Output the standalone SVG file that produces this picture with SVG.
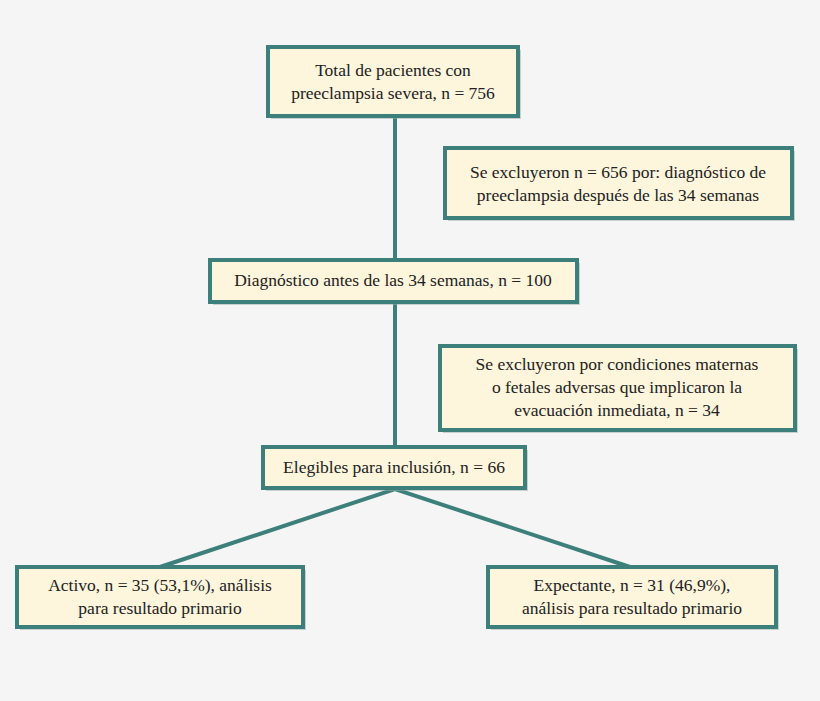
<svg xmlns="http://www.w3.org/2000/svg" width="820" height="701" viewBox="0 0 820 701">
<style>
.b{fill:#fdf5dc;stroke:#3d7f7a;stroke-width:4}
.s{fill:#9aa;opacity:0.5}
text{font-family:"Liberation Serif","Times New Roman","DejaVu Serif",serif;font-size:17.5px;fill:#222;text-anchor:middle}
.c{stroke:#3d7f7a;stroke-width:4;fill:none}
</style>
<rect width="820" height="701" fill="#f5f5f5"/>
<g id="connectors">
<line class="c" x1="395" y1="116" x2="395" y2="260"/>
<line class="c" x1="395" y1="302" x2="395" y2="447"/>
<polyline class="c" points="160,567 395,489 630,567"/>
</g>
<g id="n1"><rect class="s" x="271" y="50" width="250" height="69"/><rect class="b" x="268" y="47" width="250" height="69"/><text x="393" y="76">Total de pacientes con</text><text x="393" y="99">preeclampsia severa, n = 756</text></g>
<g id="n2"><rect class="s" x="448" y="151" width="347" height="70"/><rect class="b" x="445" y="148" width="347" height="70"/><text x="618" y="178">Se excluyeron n = 656 por: diagnóstico de</text><text x="618" y="201">preeclampsia después de las 34 semanas</text></g>
<g id="n3"><rect class="s" x="213" y="263" width="367" height="42"/><rect class="b" x="210" y="260" width="367" height="42"/><text x="393" y="286">Diagnóstico antes de las 34 semanas, n = 100</text></g>
<g id="n4"><rect class="s" x="443" y="349" width="355" height="84"/><rect class="b" x="440" y="346" width="355" height="84"/><text x="617" y="370">Se excluyeron por condiciones maternas</text><text x="617" y="393">o fetales adversas que implicaron la</text><text x="617" y="416">evacuación inmediata, n = 34</text></g>
<g id="n5"><rect class="s" x="266" y="450" width="262" height="41"/><rect class="b" x="263" y="447" width="262" height="41"/><text x="394" y="473">Elegibles para inclusión, n = 66</text></g>
<g id="n6"><rect class="s" x="20" y="570" width="286" height="60"/><rect class="b" x="17" y="567" width="286" height="60"/><text x="160" y="591">Activo, n = 35 (53,1%), análisis</text><text x="160" y="614">para resultado primario</text></g>
<g id="n7"><rect class="s" x="491" y="570" width="288" height="60"/><rect class="b" x="488" y="567" width="288" height="60"/><text x="632" y="591">Expectante, n = 31 (46,9%),</text><text x="632" y="614">análisis para resultado primario</text></g>
</svg>
